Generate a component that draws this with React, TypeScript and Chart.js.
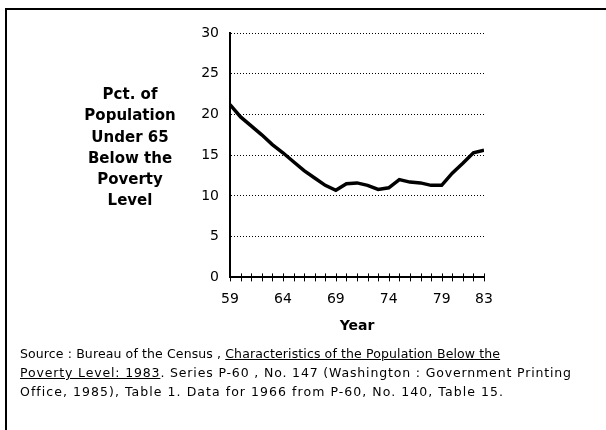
import React, { useEffect, useRef } from "react";
import { Chart, registerables } from "chart.js";

Chart.register(...registerables);

const years = [59, 60, 61, 62, 63, 64, 65, 66, 67, 68, 69, 70, 71, 72, 73, 74, 75, 76, 77, 78, 79, 80, 81, 82, 83];
const povertyPct = [21.2, 19.7, 18.6, 17.5, 16.3, 15.3, 14.2, 13.1, 12.2, 11.3, 10.7, 11.5, 11.6, 11.3, 10.8, 11.0, 12.0, 11.7, 11.6, 11.3, 11.3, 12.8, 14.0, 15.3, 15.6];
const xTickLabels = [59, 64, 69, 74, 79, 83];
const yTicks = [0, 5, 10, 15, 20, 25, 30];
const yTitleLines = ["Pct. of", "Population", "Under 65", "Below the", "Poverty", "Level"];
const xTitle = "Year";

const FONT = "'DejaVu Sans', sans-serif";

const crossTicks = {
  id: "crossTicks",
  afterDraw(chart: any) {
    const xs = chart.scales.x;
    const ctx = chart.ctx;
    const y = chart.chartArea.bottom;
    ctx.save();
    ctx.strokeStyle = "#000";
    ctx.lineWidth = 1;
    xs.ticks.forEach((t: any) => {
      const px = Math.round(xs.getPixelForValue(t.value)) + 0.5;
      ctx.beginPath();
      ctx.moveTo(px, y - 4);
      ctx.lineTo(px, y + 4);
      ctx.stroke();
    });
    ctx.restore();
  },
};

export default function App() {
  const ref = useRef<HTMLCanvasElement>(null);
  useEffect(() => {
    if (!ref.current) return;
    const chart = new Chart(ref.current, {
      type: "line",
      data: {
        datasets: [
          {
            data: years.map((y, i) => ({ x: y, y: povertyPct[i] })),
            borderColor: "#000",
            borderWidth: 3.5,
            pointRadius: 0,
            tension: 0,
            fill: false,
          },
        ],
      },
      options: {
        animation: false,
        responsive: false,
        devicePixelRatio: 1,
        layout: { padding: { left: 0, top: 33, right: 122, bottom: 95 } },
        plugins: { legend: { display: false }, tooltip: { enabled: false } },
        scales: {
          x: {
            type: "linear",
            min: 59,
            max: 83,
            afterBuildTicks: (s: any) => {
              s.ticks = years.map((v) => ({ value: v }));
            },
            ticks: {
              autoSkip: false,
              maxRotation: 0,
              padding: 14,
              color: "#000",
              font: { family: FONT, size: 14 },
              callback: (v: any) => (xTickLabels.includes(Number(v)) ? String(v) : ""),
            },
            grid: { drawOnChartArea: false, drawTicks: false },
            border: { display: true, color: "#000", width: 2 },
            title: {
              display: true,
              text: xTitle,
              color: "#000",
              font: { family: FONT, size: 14, weight: "bold" },
              padding: { top: -4, bottom: 0 },
            },
          },
          y: {
            type: "linear",
            min: 0,
            max: 30,
            afterBuildTicks: (s: any) => {
              s.ticks = yTicks.map((v) => ({ value: v }));
            },
            afterFit: (s: any) => {
              s.width = 230;
            },
            ticks: {
              padding: 11,
              color: "#000",
              font: { family: FONT, size: 14 },
            },
            grid: { color: "#000", lineWidth: 1, drawTicks: false },
            border: { display: true, color: "#000", width: 2, dash: [1, 2] },
          },
        },
      },
      plugins: [crossTicks],
    } as any);
    return () => chart.destroy();
  }, []);

  return (
    <div style={{ position: "fixed", left: 0, top: 0, width: 606, height: 430, background: "#fff", overflow: "hidden" }}>
      <div style={{ position: "absolute", left: 5, top: 8, width: 700, height: 500, borderTop: "2px solid #000", borderLeft: "2px solid #000" }} />
      <canvas ref={ref} width={606} height={430} style={{ position: "absolute", left: 0, top: 0, width: 606, height: 430 }} />
      <div
        style={{
          position: "absolute",
          left: 70,
          top: 84,
          width: 120,
          textAlign: "center",
          fontFamily: FONT,
          fontWeight: "bold",
          fontSize: 15,
          lineHeight: "21.3px",
          color: "#000",
        }}
      >
        {yTitleLines.map((l, i) => (
          <div key={i}>{l}</div>
        ))}
      </div>
      <div
        style={{
          position: "absolute",
          left: 20,
          top: 344,
          fontFamily: FONT,
          fontSize: 12.5,
          lineHeight: "19px",
          color: "#000",
          whiteSpace: "nowrap",
        }}
      >
        <div style={{ letterSpacing: "0.12px" }}>
          Source : Bureau of the Census , <u>Characteristics of the Population Below the</u>
        </div>
        <div style={{ letterSpacing: "0.85px" }}>
          <u>Poverty Level: 1983</u>.  Series P-60 , No. 147 (Washington : Government Printing
        </div>
        <div style={{ letterSpacing: "1.05px" }}>Office, 1985), Table 1.  Data for 1966 from P-60, No. 140, Table 15.</div>
      </div>
    </div>
  );
}
